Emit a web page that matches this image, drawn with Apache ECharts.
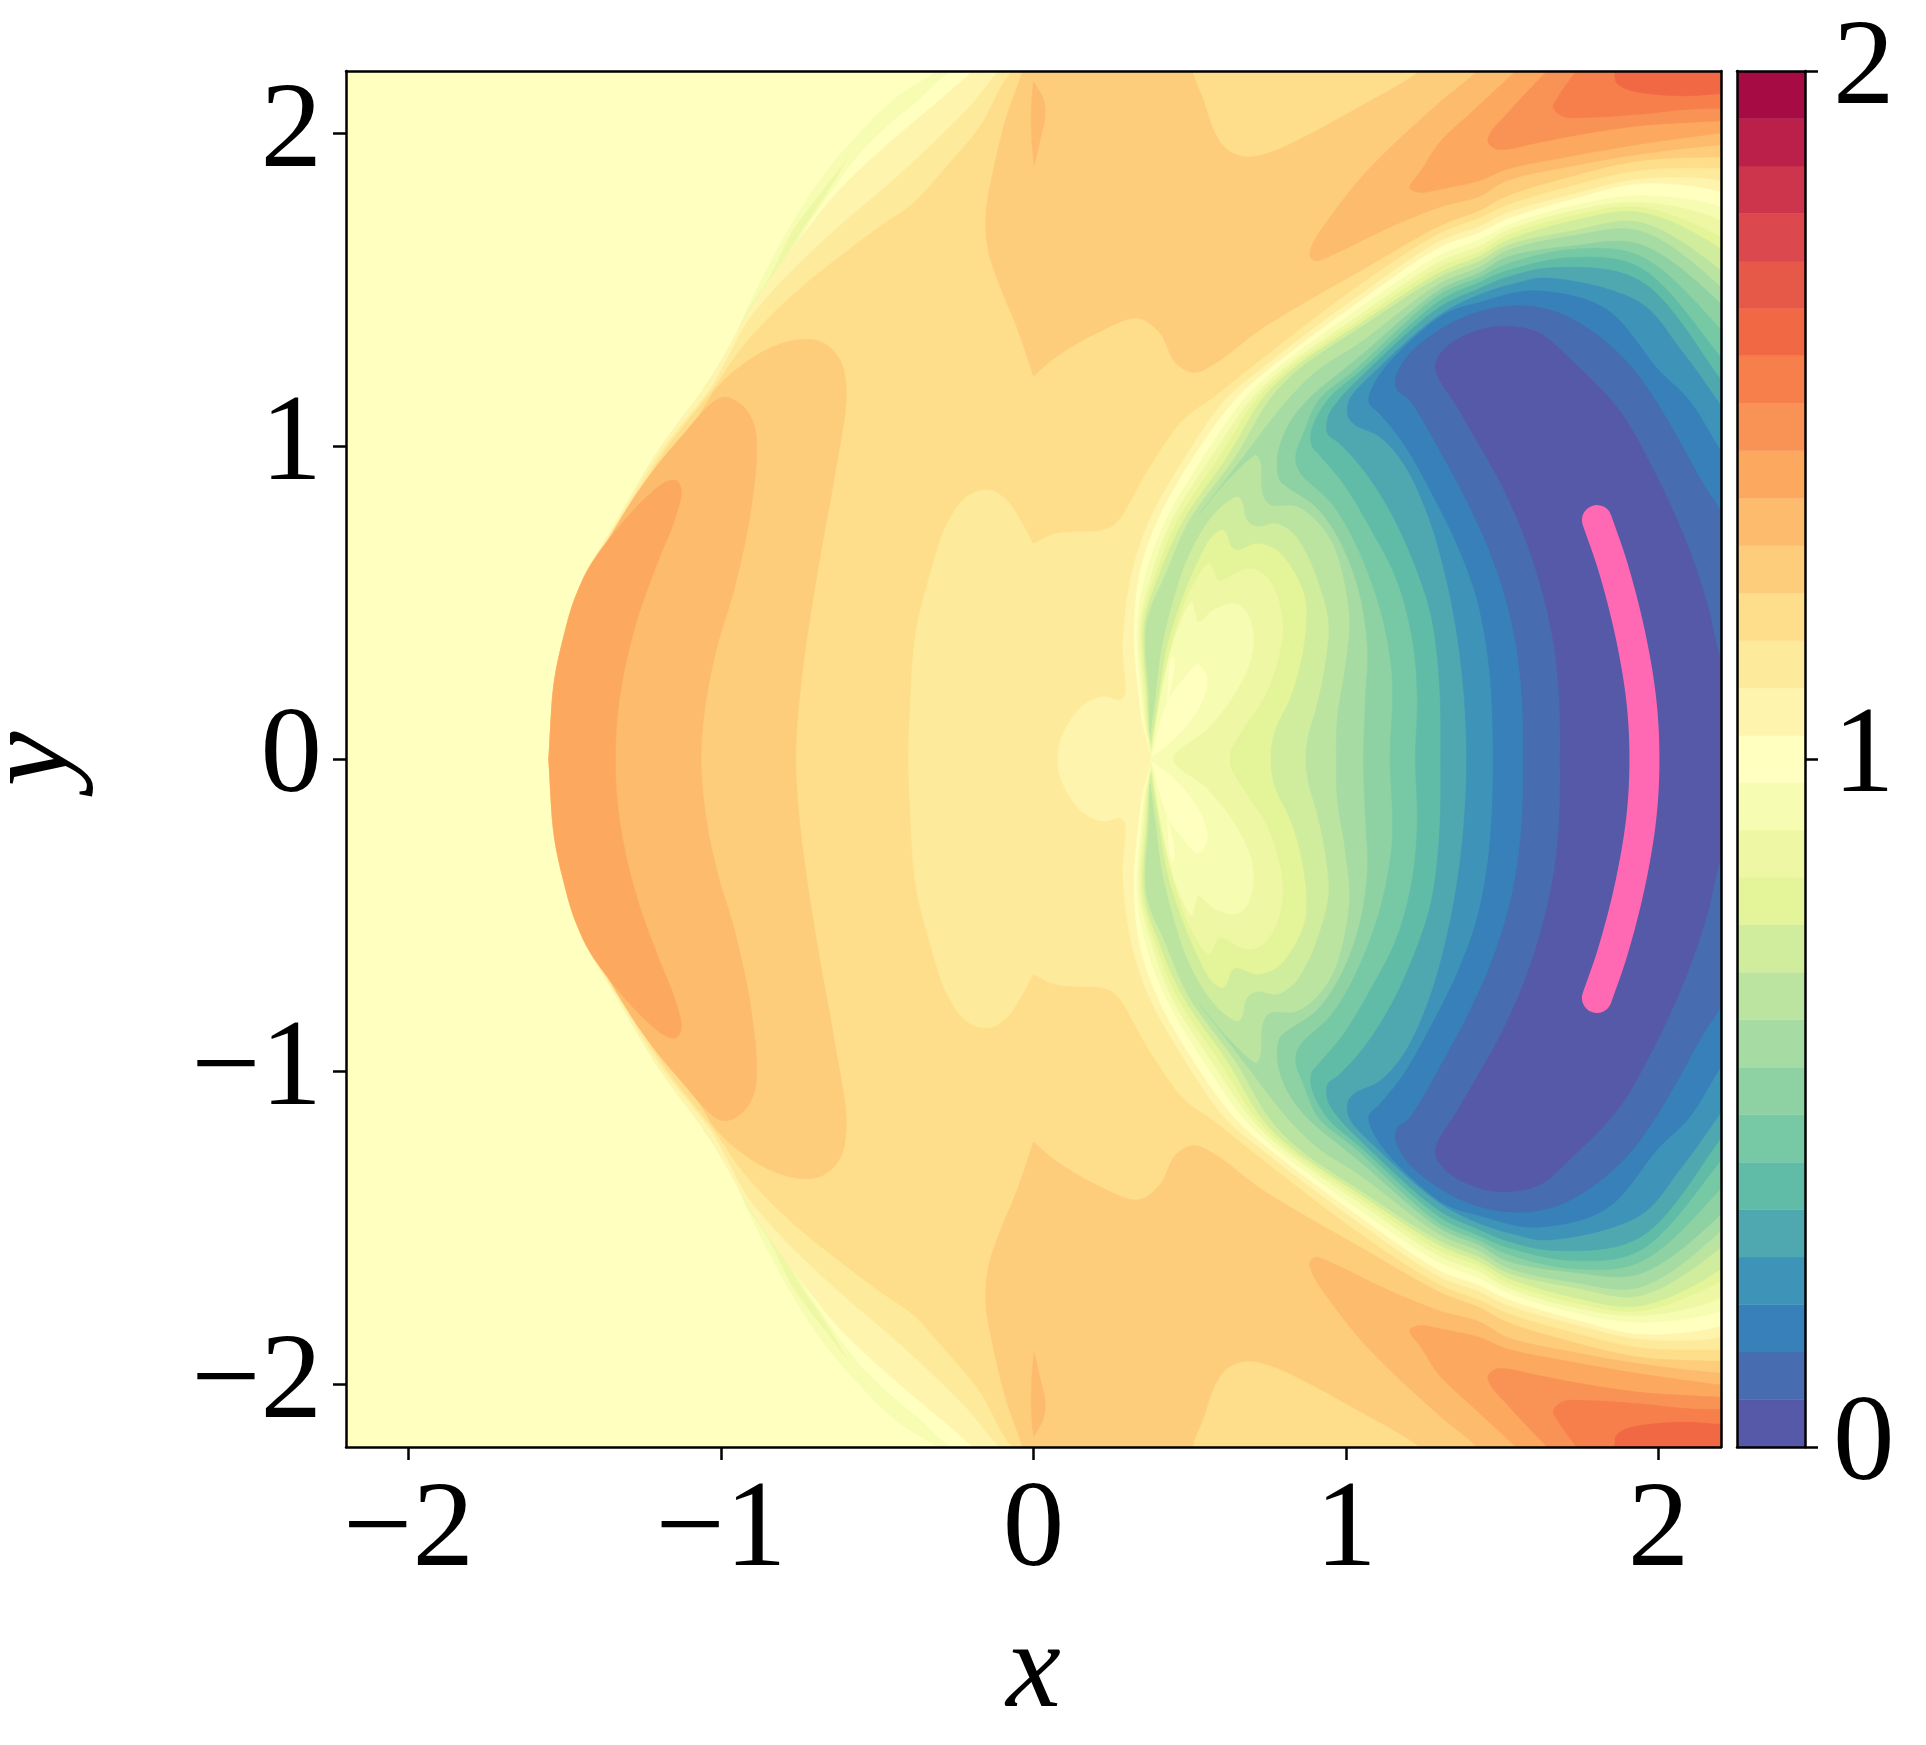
<!DOCTYPE html>
<html><head><meta charset="utf-8">
<style>html,body{margin:0;padding:0;background:#fff}#c{width:1926px;height:1745px}</style>
<script src="https://cdn.jsdelivr.net/npm/echarts@6/dist/echarts.min.js"></script></head>
<body><div id="c"></div>
<script>
const xTicks=[-2,-1,0,1,2], yTicks=[-2,-1,0,1,2], cbTicks=[0,1,2];
const levels=[0,.069,.138,.207,.276,.345,.414,.483,.552,.621,.69,.759,.828,.897,.966,1.034,1.103,1.172,1.241,1.31,1.379,1.448,1.517,1.586,1.655,1.724,1.793,1.862,1.931,2];
const bandColors=['#5659a7','#476cb0','#3880b9','#3d94b8','#4fa8b0','#61bca7','#77c9a5','#8ed2a4','#a6dba4','#bbe4a1','#d0ec9d','#e4f498','#eef8a4','#f6fcb2','#ffffbf','#fff4ad','#feea9b','#fede8a','#fecd7b','#fdbb6d','#fca95f','#f99355','#f67f4b','#f16844','#e65848','#db484d','#cd354d','#ba2049','#a70b44'];

const shockLow=[[-1.465,.519],[-1.503,.391],[-1.534,.242],[-1.551,0]];
const outer15=[[-.08,2.3],[-.203,2.191],[-.299,2.108],[-.438,1.991],[-.534,1.905],[-.63,1.81],[-.726,1.692],[-.822,1.564],[-.907,1.436],[-.992,1.287],[-1.035,1.212],[-1.1,1.125],[-1.199,.988],[-1.326,.775],[-1.421,.615],...shockLow];
const outer16=[[0,2.3],[-.118,2.191],[-.203,2.087],[-.32,1.97],[-.448,1.852],[-.598,1.724],[-.704,1.628],[-.811,1.522],[-.918,1.394],[-.98,1.28],[-1.03,1.19],[-1.19,.985],[-1.32,.775],[-1.417,.615],...shockLow];
const outer17=[[.06,2.3],[-.075,2.191],[-.171,2.023],[-.278,1.895],[-.385,1.777],[-.491,1.703],[-.619,1.607],[-.726,1.522],[-.832,1.426],[-.939,1.308],[-1.02,1.19],[-1.18,.985],[-1.31,.775],[-1.414,.615],...shockLow];
const hump18=[[-.761,0],[-.744,.242],[-.694,.583],[-.637,.903],[-.599,1.169],[-.619,1.276],[-.672,1.33],[-.736,1.342],[-.832,1.319],[-.939,1.255],[-1.019,1.18],[-1.073,1.095],[-1.2,.935],[-1.3,.79],[-1.41,.62],...shockLow];
const hump19=[[-1.064,0],[-1.048,.188],[-1.01,.37],[-.959,.54],[-.908,.775],[-.886,.988],[-.896,1.073],[-.934,1.132],[-.997,1.156],[-1.136,1.02],[-1.262,.86],[-1.405,.625],...shockLow];
const hump20=[[-1.338,0],[-1.332,.135],[-1.307,.295],[-1.262,.466],[-1.2,.636],[-1.149,.764],[-1.127,.86],[-1.142,.89],[-1.174,.887],[-1.237,.839],[-1.326,.743],[-1.421,.615],...shockLow];

const sliver13=[[-.12,2.3],[-.32,2.191],[-.448,2.108],[-.576,1.98],[-.683,1.852],[-.79,1.682],[-.907,1.458],[-.992,1.266],[-1.056,1.185],[-1.056,1.185],[-1.04,1.18],[-.971,1.266],[-.875,1.436],[-.758,1.65],[-.66,1.799],[-.565,1.927],[-.47,2.023],[-.362,2.114],[-.278,2.191],[-.08,2.3]];
const sliver12=[[-.598,1.916],[-.672,1.82],[-.768,1.692],[-.843,1.543],[-.918,1.426],[-.997,1.266],[-1.056,1.186],[-1.056,1.186],[-1.045,1.186],[-.981,1.276],[-.896,1.426],[-.821,1.554],[-.747,1.681],[-.662,1.81],[-.598,1.916]];
const sliver11=[[-1,1.27],[-1.05,1.19],[-1.199,.988],[-1.326,.775],[-1.326,.775],[-1.321,.775],[-1.194,.988],[-1.045,1.19],[-.995,1.27]];

const top18=[[-.01,2.3],[-.038,2.191],[-.086,2.055],[-.128,1.884],[-.152,1.745],[-.145,1.628],[-.107,1.511],[-.054,1.383],[0,1.225],[0,1.225],[.074,1.287],[.202,1.362],[.334,1.41],[.404,1.362],[.455,1.266],[.513,1.236],[.583,1.266],[.724,1.372],[.877,1.465],[1.044,1.56],[1.3,1.705],[1.428,1.755],[1.514,1.8],[1.727,1.865],[1.94,1.913],[2.2,1.926],[2.35,1.93]];
const top17=[[.5,2.3],[.513,2.191],[.545,2.108],[.583,2.001],[.622,1.948],[.685,1.927],[.762,1.943],[.877,1.996],[1.043,2.087],[1.222,2.191],[1.35,2.3]];
const spot19=[[0,2.167],[0,2.167],[.032,2.108],[.037,2.055],[.021,1.98],[.002,1.897],[.002,1.897],[-.006,1.991],[-.006,2.097],[0,2.167]];
const top19=[[1.5,2.3],[1.42,2.2],[1.3,2.1],[1.071,1.884],[.959,1.746],[.895,1.65],[.884,1.612],[.9,1.594],[.98,1.623],[1.087,1.676],[1.194,1.724],[1.3,1.765],[1.428,1.8],[1.514,1.849],[1.727,1.897],[1.94,1.934],[2.2,1.964],[2.35,1.97]];
const top20=[[1.65,2.3],[1.535,2.192],[1.407,2.073],[1.3,1.972],[1.242,1.884],[1.204,1.826],[1.236,1.812],[1.3,1.822],[1.428,1.85],[1.514,1.886],[1.727,1.929],[1.94,1.966],[2.2,2.002],[2.35,2.02]];
const top21=[[1.75,2.3],[1.636,2.192],[1.524,2.073],[1.46,1.998],[1.455,1.972],[1.482,1.95],[1.62,1.972],[1.727,1.993],[1.94,2.025],[2.2,2.041],[2.35,2.05]];
const top22=[[1.82,2.3],[1.732,2.192],[1.674,2.11],[1.663,2.084],[1.695,2.055],[1.78,2.052],[1.94,2.062],[2.1,2.078],[2.2,2.08],[2.35,2.08]];
const top23=[[1.85,2.3],[1.86,2.192],[1.865,2.164],[1.898,2.142],[1.983,2.126],[2.1,2.121],[2.2,2.128],[2.35,2.13]];

const wake16=[[-.4,0],[-.396,.135],[-.377,.402],[-.333,.583],[-.276,.753],[-.213,.839],[-.143,.86],[-.087,.828],[-.036,.753],[-.001,.687],[-.001,.687],[.065,.719],[.141,.727],[.2127,.73],[.264,.753],[.366,.924],[.48,1.085],[.575,1.155],[.687,1.244],[1.044,1.516],[1.3,1.68],[1.428,1.73],[1.514,1.77],[1.727,1.833],[1.94,1.881],[2.2,1.888],[2.35,1.88]];
const wake15=[[.078,0],[.09,.07],[.154,.167],[.223,.199],[.275,.188],[.293,.205],[.286,.37],[.315,.593],[.372,.764],[.487,.967],[.613,1.148],[.725,1.244],[1.044,1.484],[1.3,1.655],[1.428,1.703],[1.514,1.745],[1.727,1.806],[1.94,1.854],[2.2,1.849],[2.35,1.8]];
const wake14=[[.376,0],[.352,.1],[.338,.199],[.322,.4],[.34,.593],[.398,.764],[.513,.967],[.645,1.148],[.751,1.244],[1.044,1.463],[1.3,1.635],[1.428,1.683],[1.514,1.725],[1.727,1.79],[1.94,1.838],[2.2,1.812],[2.35,1.74]];
const wake13=[[.376,0],[.358,.1],[.346,.199],[.332,.42],[.36,.593],[.424,.764],[.545,.967],[.672,1.148],[.773,1.244],[1.044,1.442],[1.3,1.61],[1.428,1.66],[1.514,1.705],[1.727,1.769],[1.94,1.801],[2.2,1.764],[2.35,1.67]];
const wake12=[[.447,0],[.554,.093],[.639,.199],[.693,.306],[.705,.391],[.682,.471],[.639,.498],[.575,.477],[.528,.439],[.518,.466],[.506,.502],[.463,.423],[.415,.253],[.377,.023],[.377,.023],[.362,.1],[.353,.199],[.341,.43],[.379,.593],[.443,.764],[.57,.967],[.695,1.148],[.794,1.244],[1.044,1.42],[1.3,1.59],[1.428,1.64],[1.514,1.689],[1.727,1.753],[1.94,1.78],[2.2,1.721],[2.35,1.6]];
const wake11=[[.629,0],[.631,.023],[.671,.093],[.746,.21],[.789,.338],[.799,.434],[.778,.53],[.735,.594],[.682,.61],[.594,.573],[.577,.604],[.562,.626],[.506,.551],[.447,.391],[.41,.231],[.377,.039],[.377,.039],[.366,.1],[.36,.199],[.348,.434],[.392,.593],[.462,.764],[.596,.967],[.712,1.148],[.81,1.244],[1.044,1.404],[1.3,1.572],[1.428,1.622],[1.514,1.673],[1.727,1.737],[1.94,1.764],[2.2,1.668],[2.35,1.55]];
const wake10=[[.76,0],[.762,.039],[.778,.103],[.82,.189],[.853,.295],[.874,.434],[.869,.519],[.831,.605],[.778,.669],[.714,.69],[.65,.669],[.634,.679],[.62,.717],[.605,.733],[.57,.711],[.522,.626],[.469,.498],[.426,.359],[.399,.199],[.375,.05],[.375,.05],[.368,.12],[.364,.199],[.355,.434],[.404,.593],[.481,.764],[.621,.967],[.73,1.148],[.826,1.244],[1.044,1.391],[1.3,1.555],[1.428,1.608],[1.514,1.657],[1.727,1.721],[1.94,1.748],[2.2,1.63],[2.35,1.48]];
const wake9=[[.872,0],[.879,.071],[.906,.167],[.933,.295],[.945,.434],[.917,.551],[.874,.658],[.831,.722],[.778,.754],[.719,.745],[.693,.754],[.677,.781],[.671,.818],[.655,.839],[.613,.818],[.554,.754],[.49,.637],[.447,.509],[.41,.359],[.389,.199],[.373,.082],[.373,.082],[.37,.199],[.362,.434],[.424,.593],[.5,.764],[.647,.967],[.755,1.148],[.847,1.244],[1.044,1.378],[1.3,1.54],[1.428,1.592],[1.514,1.641],[1.727,1.689],[1.94,1.716],[2.2,1.561],[2.35,1.4]];
const wake8=[[.969,0],[.973,.135],[.998,.295],[1.011,.455],[.967,.668],[.909,.759],[.839,.809],[.756,.814],[.734,.849],[.728,.945],[.714,.972],[.698,.965],[.621,.892],[.532,.785],[.532,.785],[.672,.967],[.813,1.148],[.911,1.244],[1.044,1.33],[1.3,1.52],[1.428,1.573],[1.514,1.625],[1.727,1.673],[1.94,1.689],[2.2,1.508],[2.35,1.33]];
const wake7=[[1.056,0],[1.062,.188],[1.069,.348],[1.043,.53],[.979,.7],[.903,.807],[.813,.869],[.788,.892],[.781,.967],[.813,1.063],[.877,1.148],[.991,1.244],[1.044,1.287],[1.3,1.5],[1.428,1.555],[1.514,1.604],[1.727,1.641],[1.94,1.646],[2.2,1.455],[2.35,1.27]];
const wake6=[[1.141,0],[1.149,.188],[1.145,.295],[1.107,.487],[1.03,.689],[.954,.817],[.851,.919],[.839,.967],[.864,1.041],[.913,1.148],[1.028,1.244],[1.3,1.485],[1.428,1.54],[1.514,1.582],[1.727,1.63],[1.94,1.609],[2.2,1.372],[2.35,1.17]];
const wake5=[[1.222,0],[1.228,.21],[1.209,.401],[1.158,.583],[1.081,.732],[.992,.88],[.915,.972],[.89,1.004],[.89,1.052],[.941,1.148],[1.05,1.244],[1.3,1.465],[1.428,1.525],[1.514,1.561],[1.727,1.604],[1.94,1.572],[2.2,1.283],[2.35,1.08]];
const wake4=[[1.303,0],[1.299,.241],[1.273,.455],[1.222,.615],[1.145,.785],[1.056,.924],[.979,1.009],[.941,1.041],[.943,1.095],[.977,1.148],[1.071,1.244],[1.3,1.445],[1.428,1.505],[1.514,1.54],[1.674,1.572],[1.94,1.53],[2.2,1.212],[2.35,1]];
const wake3=[[1.386,0],[1.369,.295],[1.324,.562],[1.26,.785],[1.184,.945],[1.107,1.031],[1.03,1.068],[1.007,1.095],[1.011,1.148],[1.098,1.244],[1.3,1.42],[1.428,1.485],[1.54,1.52],[1.64,1.538],[1.94,1.46],[2.07,1.31],[2.2,1.129],[2.35,.9]];
const wake2=[[1.471,0],[1.458,.295],[1.42,.508],[1.363,.668],[1.286,.828],[1.184,1.009],[1.107,1.105],[1.075,1.137],[1.075,1.164],[1.119,1.244],[1.25,1.375],[1.33,1.43],[1.428,1.46],[1.6,1.497],[1.83,1.44],[2,1.244],[2.097,1.148],[2.2,.983],[2.35,.75]];
const wake1=[[1.567,0],[1.561,.231],[1.529,.444],[1.471,.636],[1.401,.796],[1.311,.967],[1.203,1.148],[1.165,1.18],[1.158,1.212],[1.196,1.287],[1.299,1.372],[1.427,1.431],[1.554,1.449],[1.682,1.426],[1.81,1.351],[1.912,1.255],[1.989,1.148],[2.065,1.02],[2.142,.881],[2.2,.791],[2.35,.5]];
const wake0=[[1.686,0],[1.682,.21],[1.663,.38],[1.624,.551],[1.567,.722],[1.49,.892],[1.362,1.116],[1.286,1.255],[1.324,1.319],[1.427,1.372],[1.516,1.383],[1.618,1.362],[1.72,1.276],[1.873,1.116],[1.989,.913],[2.09,.69],[2.155,.498],[2.2,.317],[2.3,.1]];
const lobe14=[[.378,.008],[.429,.183],[.469,.242],[.527,.301],[.554,.263],[.549,.21],[.511,.135],[.447,.061],[.378,.008]];
const spike14=[[.428,.183],[.439,.317],[.447,.327],[.45,.295],[.431,.189]];
const frameBox=[[-2.4,-2.4],[2.4,-2.4],[2.4,2.4],[-2.4,2.4]];
const cornerHi=[[2.4,2.4]];

const arcX=[1.803,1.854,1.909,1.945,1.955,1.945,1.909,1.854,1.803];
const arcY=[.764,.615,.402,.188,0,-.188,-.402,-.615,-.764];

// band, path, kind: 'raw' polygon, 'across' closes over y=0 mirror, 'pair' drawn in both halves
const regions=[
 {b:14,p:frameBox,k:'raw'},
 {b:13,p:sliver13,k:'pair'},{b:12,p:sliver12,k:'pair'},{b:11,p:sliver11,k:'pair'},
 {b:15,p:outer15,k:'across',c:cornerHi},{b:16,p:outer16,k:'across',c:cornerHi},{b:17,p:outer17,k:'across',c:cornerHi},
 {b:18,p:hump18,k:'across'},{b:19,p:hump19,k:'across'},{b:20,p:hump20,k:'across'},
 {b:18,p:top18,k:'pair',t:[[2.4,2.4],[-.01,2.4]]},{b:17,p:top17,k:'pair',t:[[1.35,2.4],[.5,2.4]]},{b:19,p:spot19,k:'pair'},
 {b:19,p:top19,k:'pair',t:[[2.4,2.4],[1.5,2.4]]},{b:20,p:top20,k:'pair',t:[[2.4,2.4],[1.65,2.4]]},{b:21,p:top21,k:'pair',t:[[2.4,2.4],[1.75,2.4]]},{b:22,p:top22,k:'pair',t:[[2.4,2.4],[1.82,2.4]]},{b:23,p:top23,k:'pair',t:[[2.4,2.4],[1.85,2.4]]},
 {b:16,p:wake16,k:'across'},{b:15,p:wake15,k:'across'},{b:14,p:wake14,k:'across'},{b:13,p:wake13,k:'across'},{b:12,p:wake12,k:'across'},{b:11,p:wake11,k:'across'},{b:10,p:wake10,k:'across'},{b:9,p:wake9,k:'across'},{b:8,p:wake8,k:'across'},{b:7,p:wake7,k:'across'},{b:6,p:wake6,k:'across'},{b:5,p:wake5,k:'across'},{b:4,p:wake4,k:'across'},{b:3,p:wake3,k:'across'},{b:2,p:wake2,k:'across'},{b:1,p:wake1,k:'across'},{b:0,p:wake0,k:'across'},
 {b:14,p:lobe14,k:'pair'},{b:14,p:spike14,k:'pair'}
];

function cr(p0,p1,p2,p3,n,out){
  const k=(a,b)=>Math.max(1e-5,Math.sqrt(Math.hypot(b[0]-a[0],b[1]-a[1])));
  const t0=0,t1=t0+k(p0,p1),t2=t1+k(p1,p2),t3=t2+k(p2,p3);
  const L=(a,b,ta,tb,t)=>[a[0]+(b[0]-a[0])*(t-ta)/(tb-ta),a[1]+(b[1]-a[1])*(t-ta)/(tb-ta)];
  for(let j=0;j<n;j++){
    const t=t1+(t2-t1)*j/n;
    const A1=L(p0,p1,t0,t1,t),A2=L(p1,p2,t1,t2,t),A3=L(p2,p3,t2,t3,t);
    const B1=L(A1,A2,t0,t2,t),B2=L(A2,A3,t1,t3,t);
    out.push(L(B1,B2,t1,t2,t));
  }
}
function splineRun(r){
  if(r.length<3) return r.slice();
  const out=[],n=r.length;
  const g0=r[0][1]===0?[r[1][0],-r[1][1]]:[2*r[0][0]-r[1][0],2*r[0][1]-r[1][1]];
  const g1=[2*r[n-1][0]-r[n-2][0],2*r[n-1][1]-r[n-2][1]];
  for(let i=0;i<n-1;i++) cr(i?r[i-1]:g0,r[i],r[i+1],i+2<n?r[i+2]:g1,10,out);
  out.push(r[n-1]);
  return out;
}
function spline(p){
  let runs=[[p[0]]];
  for(let i=1;i<p.length;i++){
    if(p[i][0]===p[i-1][0]&&p[i][1]===p[i-1][1]) runs.push([p[i]]);
    else runs[runs.length-1].push(p[i]);
  }
  return runs.flatMap(splineRun);
}
const flip=a=>a.map(q=>[q[0],-q[1]]).reverse();
const polys=[];
regions.forEach(r=>{
  const col=bandColors[r.b];
  if(r.k==='raw'){polys.push({col,pts:r.p});return;}
  const s=spline(r.p);
  if(r.k==='across'){
    const head=r.c||[];
    polys.push({col,pts:[...head,...s,...flip(s),...flip(head)]});
  }else{
    const a=[...s,...(r.t||[])];
    polys.push({col,pts:a});polys.push({col,pts:flip(a)});
  }
});

const FONT='Liberation Serif', FS=123, INK='#000', LW=2.5;
const fmt=v=>v<0?'\u2212'+Math.abs(v):String(v);
const hiddenLine={show:true,onZero:false,lineStyle:{color:INK,width:LW}};
const tick=(vals)=>({show:true,length:13,inside:false,lineStyle:{color:INK,width:2.5},customValues:vals});
const label=(vals,margin)=>({show:true,color:INK,fontFamily:FONT,fontSize:FS,margin,formatter:fmt,customValues:vals,hideOverlap:false,showMinLabel:true,showMaxLabel:true});

const pair=(type,g,pos,lo,hi,extra)=>Object.assign({type:'value',gridIndex:g,position:pos,min:lo,max:hi,z:10,axisLine:hiddenLine,axisTick:{show:false},axisLabel:{show:false},splitLine:{show:false}},extra||{});

const option={
 animation:false,backgroundColor:'#fff',
 grid:[{left:346,top:71,width:1375,height:1376,outerBoundsMode:'none'},{left:1737,top:71,width:68,height:1376,outerBoundsMode:'none'}],
 xAxis:[
  pair('x',0,'bottom',-2.2,2.2,{axisTick:tick(xTicks),axisLabel:label(xTicks,24),name:'x',nameLocation:'middle',nameGap:165,nameTextStyle:{fontFamily:FONT,fontStyle:'italic',fontSize:FS,color:INK}}),
  pair('x',0,'top',-2.2,2.2),
  pair('x',1,'bottom',0,1),
  pair('x',1,'top',0,1)
 ],
 yAxis:[
  pair('y',0,'left',-2.2,2.2,{axisTick:tick(yTicks),axisLabel:label(yTicks,24),name:'y',nameLocation:'middle',nameGap:250,nameTextStyle:{fontFamily:FONT,fontStyle:'italic',fontSize:FS,color:INK}}),
  pair('y',0,'right',-2.2,2.2),
  pair('y',1,'left',0,2),
  pair('y',1,'right',0,2,{axisTick:tick(cbTicks),axisLabel:label(cbTicks,28)})
 ],
 series:[
  {type:'custom',coordinateSystem:'cartesian2d',xAxisIndex:0,yAxisIndex:0,clip:true,silent:true,z:2,
   data:polys.map((_,i)=>[i]),encode:{x:[],y:[]},
   renderItem:(params,api)=>{
     const q=polys[api.value(0)];
     return {type:'polygon',shape:{points:q.pts.map(v=>api.coord(v))},style:{fill:q.col,stroke:q.col,lineWidth:.6}};
   }},
  {type:'line',xAxisIndex:0,yAxisIndex:0,symbol:'none',silent:true,z:5,clip:true,
   data:spline(arcX.map((x,i)=>[x,arcY[i]])),
   lineStyle:{color:'#ff69b4',width:30,cap:'round',join:'round'}},
  {type:'custom',coordinateSystem:'cartesian2d',xAxisIndex:2,yAxisIndex:2,silent:true,z:2,clip:true,
   data:bandColors.map((_,i)=>[i]),encode:{x:[],y:[]},
   renderItem:(params,api)=>{
     const i=api.value(0);
     const a=api.coord([0,levels[i]]),b=api.coord([1,levels[i+1]]);
     return {type:'rect',shape:{x:a[0],y:b[1],width:b[0]-a[0],height:a[1]-b[1]},style:{fill:bandColors[i],stroke:bandColors[i],lineWidth:.4}};
   }}
 ]
};
const chart=echarts.init(document.getElementById('c'),null,{renderer:'canvas'});
chart.setOption(option);
</script></body></html>
